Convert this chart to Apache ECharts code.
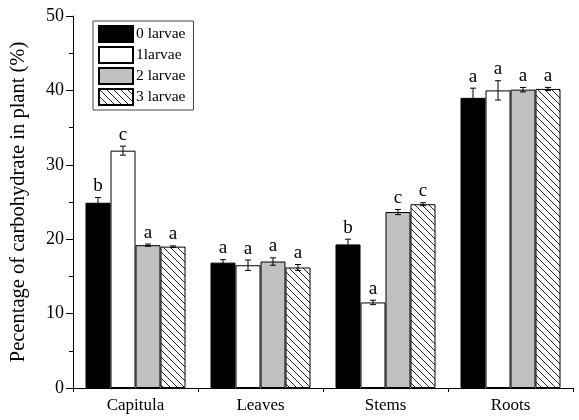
<!DOCTYPE html>
<html>
<head>
<meta charset="utf-8">
<script src="https://cdn.jsdelivr.net/npm/echarts@6/dist/echarts.min.js"></script>
<style>
html,body{margin:0;padding:0;background:#fff;}
#chart{width:579px;height:420px;}
</style>
</head>
<body>
<div id="chart"></div>
<script>
var categories = ['Capitula', 'Leaves', 'Stems', 'Roots'];
var seriesNames = ['0 larvae', '1larvae', '2 larvae', '3 larvae'];
var larvae0 = [24.9, 16.85, 19.3, 39.0];
var larvae1 = [31.9, 16.5, 11.5, 40.0];
var larvae2 = [19.2, 17.0, 23.65, 40.1];
var larvae3 = [19.0, 16.2, 24.7, 40.2];
var err0 = [0.7, 0.4, 0.7, 1.3];
var err1 = [0.6, 0.7, 0.3, 1.3];
var err2 = [0.15, 0.5, 0.35, 0.3];
var err3 = [0.1, 0.4, 0.2, 0.2];
var letters0 = ['b', 'a', 'b', 'a'];
var letters1 = ['c', 'a', 'a', 'a'];
var letters2 = ['a', 'a', 'c', 'a'];
var letters3 = ['a', 'a', 'c', 'a'];
var yTicks = [0, 10, 20, 30, 40, 50];

var FONT = "'Liberation Serif', 'Times New Roman', serif";

// hatch pattern
var pc = document.createElement('canvas');
pc.width = 7; pc.height = 7;
var px = pc.getContext('2d');
px.fillStyle = '#fff'; px.fillRect(0, 0, 7, 7);
px.strokeStyle = '#222'; px.lineWidth = 1;
px.beginPath();
px.moveTo(-1, -1); px.lineTo(8, 8);
px.moveTo(-1, 6); px.lineTo(1, 8);
px.moveTo(6, -1); px.lineTo(8, 1);
px.stroke();

var values = [larvae0, larvae1, larvae2, larvae3];
var errs = [err0, err1, err2, err3];
var letters = [letters0, letters1, letters2, letters3];
var fills = ['#000000', '#ffffff', '#c0c0c0', {image: pc, repeat: 'repeat'}];

var series = [];
for (var s = 0; s < 4; s++) {
  series.push({
    name: seriesNames[s],
    type: 'bar',
    data: values[s],
    barGap: '0%',
    barCategoryGap: '20%',
    itemStyle: {color: fills[s], borderColor: '#000', borderWidth: 1},
    emphasis: {disabled: true},
    animation: false
  });
}
for (var s2 = 0; s2 < 4; s2++) {
  (function (si) {
    var d = [];
    for (var c = 0; c < categories.length; c++) {
      d.push([c, values[si][c] - errs[si][c], values[si][c] + errs[si][c], letters[si][c]]);
    }
    series.push({
      type: 'custom',
      data: d,
      silent: true,
      animation: false,
      z: 10,
      renderItem: function (params, api) {
        var ci = api.value(0);
        var lo = api.coord([ci, api.value(1)]);
        var hi = api.coord([ci, api.value(2)]);
        var band = api.size([1, 0])[0];
        var bw = band * 0.8 / 4;
        var x = lo[0] + (si - 1.5) * bw;
        var cap = 3;
        var st = {stroke: '#000', lineWidth: 1};
        return {
          type: 'group',
          children: [
            {type: 'line', shape: {x1: x, y1: lo[1], x2: x, y2: hi[1]}, style: st},
            {type: 'line', shape: {x1: x - cap, y1: lo[1], x2: x + cap, y2: lo[1]}, style: st},
            {type: 'line', shape: {x1: x - cap, y1: hi[1], x2: x + cap, y2: hi[1]}, style: st},
            {type: 'text', x: x, y: hi[1] - 2, style: {text: letters[si][ci], fill: '#000', font: '19px ' + FONT, align: 'center', verticalAlign: 'bottom'}}
          ]
        };
      }
    });
  })(s2);
}

var chart = echarts.init(document.getElementById('chart'));
chart.setOption({
  animation: false,
  backgroundColor: '#fff',
  grid: {left: 72, right: 6, top: 16, bottom: 32, containLabel: false},
  legend: {
    data: seriesNames,
    left: 93, top: 21,
    orient: 'vertical',
    itemWidth: 34, itemHeight: 16, itemGap: 3,
    padding: [4, 8, 4, 5],
    borderColor: '#444', borderWidth: 1,
    icon: 'rect',
    selectedMode: false,
    textStyle: {fontFamily: FONT, fontSize: 15.5, color: '#000', padding: [0, 0, 0, -2], lineHeight: 16}
  },
  xAxis: [{
    type: 'category',
    data: categories,
    position: 'bottom',
    axisLine: {lineStyle: {color: '#000', width: 1}},
    axisTick: {alignWithLabel: true, length: 6, lineStyle: {color: '#000'}},
    axisLabel: {fontFamily: FONT, fontSize: 17, color: '#000', margin: 9}
  }, {
    type: 'category',
    data: categories,
    position: 'bottom',
    axisLine: {show: false},
    axisTick: {show: true, length: 4, lineStyle: {color: '#000'}},
    axisLabel: {show: false}
  }],
  yAxis: {
    type: 'value',
    min: yTicks[0], max: yTicks[yTicks.length - 1], interval: 10,
    name: 'Pecentage of carbohydrate in plant (%)',
    nameLocation: 'middle',
    nameGap: 44,
    nameTextStyle: {fontFamily: FONT, fontSize: 20.5, color: '#000'},
    axisLine: {show: true, lineStyle: {color: '#000', width: 1}},
    axisTick: {show: true, length: 7, lineStyle: {color: '#000'}},
    minorTick: {show: true, splitNumber: 2, length: 4, lineStyle: {color: '#000'}},
    splitLine: {show: false},
    axisLabel: {fontFamily: FONT, fontSize: 18, color: '#000', margin: 9}
  },
  series: series
});
</script>
</body>
</html>
